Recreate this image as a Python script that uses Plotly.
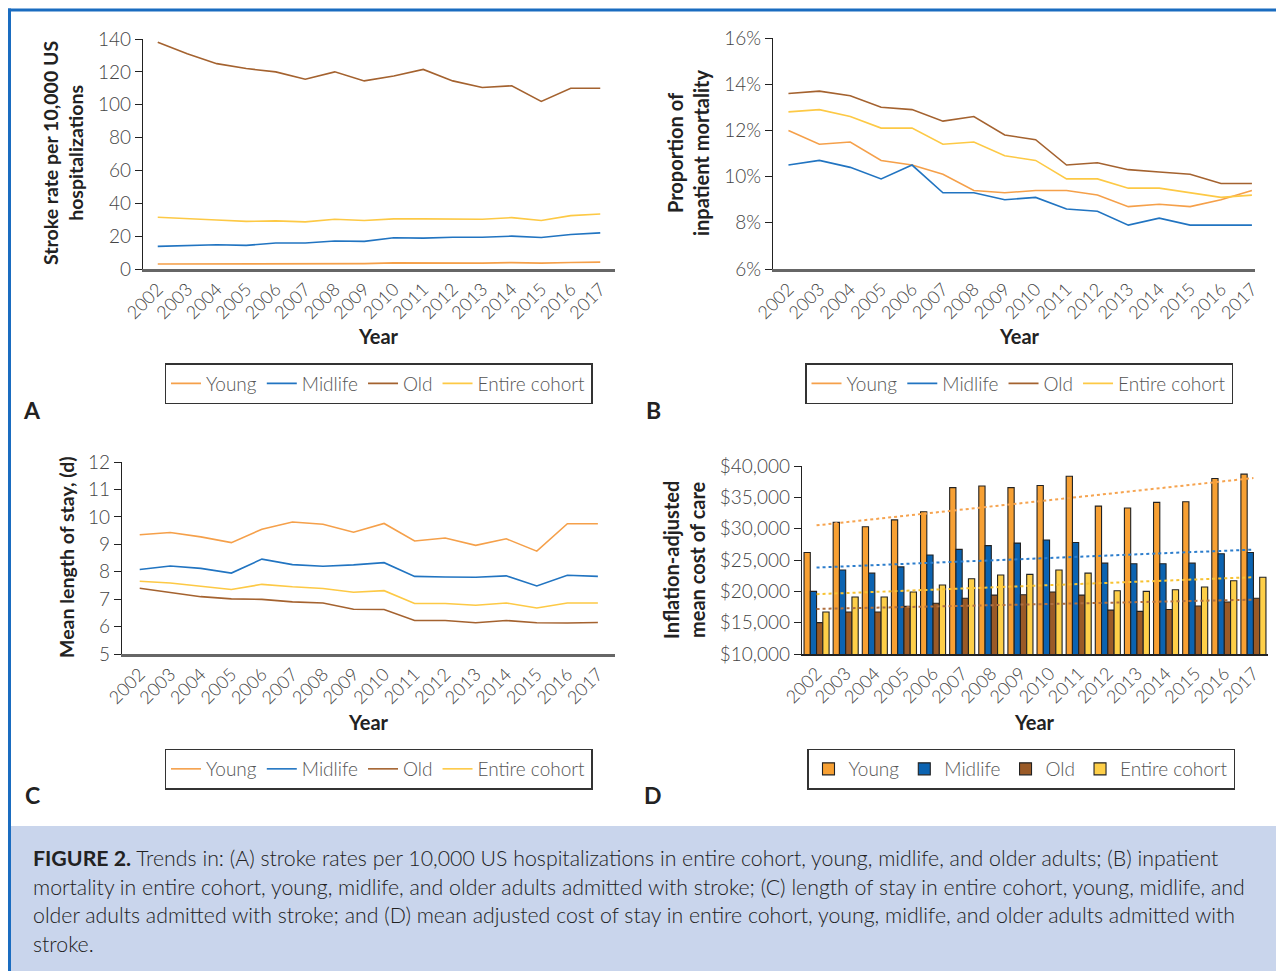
import numpy as np
import plotly.graph_objects as go

FONT = "Lato"
W, H = 1276, 971

years = [str(y) for y in range(2002, 2018)]
series_names = ["Young", "Midlife", "Old", "Entire cohort"]

# Panel A: stroke rate per 10,000 US hospitalizations
a_young = [3.0, 3.0, 3.2, 3.0, 3.2, 3.3, 3.4, 3.3, 3.7, 3.6, 3.6, 3.6, 3.9, 3.6, 4.0, 4.2]
a_midlife = [13.8, 14.5, 14.8, 14.4, 15.8, 15.8, 17.0, 16.8, 19.0, 18.8, 19.3, 19.3, 20.0, 19.2, 21.0, 22.0]
a_old = [138, 131, 125, 122, 120, 115.5, 120, 114.5, 117.5, 121.5, 114.5, 110.5, 111.5, 102, 110, 110]
a_entire = [31.5, 30.5, 29.8, 29.0, 29.3, 28.7, 30.3, 29.5, 30.5, 30.5, 30.3, 30.3, 31.3, 29.5, 32.5, 33.5]

# Panel B: proportion of inpatient mortality
b_young = [0.120, 0.114, 0.115, 0.107, 0.105, 0.101, 0.094, 0.093, 0.094, 0.094, 0.092, 0.087, 0.088, 0.087, 0.090, 0.094]
b_midlife = [0.105, 0.107, 0.104, 0.099, 0.105, 0.093, 0.093, 0.090, 0.091, 0.086, 0.085, 0.079, 0.082, 0.079, 0.079, 0.079]
b_old = [0.136, 0.137, 0.135, 0.130, 0.129, 0.124, 0.126, 0.118, 0.116, 0.105, 0.106, 0.103, 0.102, 0.101, 0.097, 0.097]
b_entire = [0.128, 0.129, 0.126, 0.121, 0.121, 0.114, 0.115, 0.109, 0.107, 0.099, 0.099, 0.095, 0.095, 0.093, 0.091, 0.092]

# Panel C: mean length of stay (days)
c_young = [9.35, 9.43, 9.27, 9.06, 9.55, 9.81, 9.73, 9.44, 9.76, 9.12, 9.23, 8.96, 9.20, 8.75, 9.75, 9.75]
c_midlife = [8.08, 8.21, 8.12, 7.95, 8.46, 8.26, 8.20, 8.25, 8.33, 7.83, 7.81, 7.80, 7.85, 7.48, 7.87, 7.83]
c_old = [7.40, 7.24, 7.09, 7.01, 6.99, 6.90, 6.86, 6.63, 6.62, 6.22, 6.22, 6.14, 6.22, 6.14, 6.13, 6.15]
c_entire = [7.65, 7.59, 7.47, 7.35, 7.54, 7.45, 7.39, 7.25, 7.31, 6.84, 6.84, 6.78, 6.86, 6.68, 6.86, 6.86]

# Panel D: inflation-adjusted mean cost of care ($)
d_young = [26200, 31000, 30300, 31400, 32700, 36550, 36800, 36550, 36900, 38360, 33600, 33300, 34200, 34300, 38000, 38700]
d_midlife = [20000, 23400, 22900, 23900, 25800, 26700, 27300, 27700, 28200, 27800, 24500, 24400, 24400, 24500, 26000, 26200]
d_old = [15000, 16700, 16700, 17600, 18100, 18900, 19400, 19450, 19900, 19400, 17000, 16800, 17100, 17650, 18300, 18900]
d_entire = [16700, 19100, 19100, 19900, 21000, 22000, 22600, 22700, 23400, 22900, 20100, 20000, 20250, 20700, 21700, 22250]

line_colors = ["#f5a04a", "#2174c1", "#a4622f", "#fdc945"]
bar_colors = ["#f7a033", "#0b63b1", "#9a5a27", "#fecf48"]
trend_colors = ["#f6a450", "#2c7dcc", "#b07040", "#f7c232"]


def px(x):
    return x / W


def py(y):
    return 1 - y / H


fig = go.Figure()

panels_lines = [
    ("x", "y", "legend", [a_young, a_midlife, a_old, a_entire]),
    ("x2", "y2", "legend2", [b_young, b_midlife, b_old, b_entire]),
    ("x3", "y3", "legend3", [c_young, c_midlife, c_old, c_entire]),
]
for xa, ya, lg, data in panels_lines:
    for name, vals, col in zip(series_names, data, line_colors):
        fig.add_trace(go.Scatter(x=years, y=vals, name=name, mode="lines",
                                 line=dict(color=col, width=1.6),
                                 xaxis=xa, yaxis=ya, legend=lg))

for name, vals, col in zip(series_names, [d_young, d_midlife, d_old, d_entire], bar_colors):
    fig.add_trace(go.Bar(x=years, y=vals, name=name, marker=dict(color=col, line=dict(color="#222", width=1.1)),
                         xaxis="x4", yaxis="y4", legend="legend4"))

# linear trend lines for panel D, fitted from the data
idx = np.arange(len(years))
for vals, col in zip([d_young, d_midlife, d_old, d_entire], trend_colors):
    k, b = np.polyfit(idx, np.array(vals, dtype=float), 1)
    fig.add_trace(go.Scatter(x=[years[0], years[-1]], y=[b, b + k * idx[-1]], mode="lines",
                             line=dict(color=col, width=2, dash="dot"), showlegend=False,
                             xaxis="x4", yaxis="y4", hoverinfo="skip"))

tickfont = dict(family=FONT, size=19, color="#444", weight=300)
xtickfont = dict(family=FONT, size=18, color="#444", weight=300)


def xaxis(dom, anchor, rng, lc="#666", lw=2.5):
    return dict(domain=dom, anchor=anchor, type="category", range=rng, showgrid=False,
                showline=True, linecolor=lc, linewidth=lw, ticks="", tickangle=-45,
                tickfont=xtickfont, zeroline=False, fixedrange=True, automargin=False)


def yaxis(dom, anchor, rng, dtick, **kw):
    d = dict(domain=dom, anchor=anchor, range=rng, dtick=dtick, showgrid=False, showline=True,
             linecolor="#222", linewidth=1.3, ticks="outside", ticklen=7, tickcolor="#222",
             tickwidth=1.3, tickfont=tickfont, zeroline=False, fixedrange=True, automargin=False)
    d.update(kw)
    return d


legend_style = dict(orientation="h", xanchor="center", yanchor="middle", bordercolor="#333",
                    borderwidth=1.5, bgcolor="white",
                    font=dict(family=FONT, size=19, color="#555", weight=300),
                    itemwidth=30)

fig.update_layout(
    template="none",
    width=W, height=H, margin=dict(l=0, r=0, t=0, b=0, autoexpand=False),
    paper_bgcolor="white", plot_bgcolor="white",
    font=dict(family=FONT, color="#333"),
    barmode="group", bargap=0.14, bargroupgap=0,
    xaxis=xaxis([px(143), px(615)], "y", [-0.5, 15.5]),
    yaxis=yaxis([py(269), py(39)], "x", [0, 140], 20),
    xaxis2=xaxis([px(773), px(1255)], "y2", [-0.5, 15.1]),
    yaxis2=yaxis([py(269), py(38)], "x2", [0.06, 0.16], 0.02, tickformat=".0%"),
    xaxis3=xaxis([px(122), px(615)], "y3", [-0.58, 15.56]),
    yaxis3=yaxis([py(654), py(462)], "x3", [5, 12], 1),
    xaxis4=xaxis([px(802), px(1268)], "y4", [-0.5, 15.5], lc="#222", lw=2),
    yaxis4=yaxis([py(654), py(466)], "x4", [10000, 40000], 5000, tickprefix="$", tickformat=",d"),
    legend=dict(x=px(378.5), y=py(383.5), **legend_style),
    legend2=dict(x=px(1019), y=py(383.5), **legend_style),
    legend3=dict(x=px(378.5), y=py(769), **legend_style),
    legend4=dict(x=px(1021), y=py(769), **legend_style),
    showlegend=True,
)

shapes = [
    dict(type="rect", xref="paper", yref="paper", x0=px(11), x1=1, y0=0, y1=py(826),
         fillcolor="#c9d5ec", line=dict(width=0), layer="below"),
    dict(type="line", xref="paper", yref="paper", x0=px(8), x1=1, y0=py(10), y1=py(10),
         line=dict(color="#1a6cc0", width=3)),
    dict(type="line", xref="paper", yref="paper", x0=px(9.5), x1=px(9.5), y0=0, y1=py(8.5),
         line=dict(color="#1a6cc0", width=3)),
]
fig.update_layout(shapes=shapes)

ann = []


def text(x, y, s, size=19, bold=False, angle=0, xanchor="center", color="#222", align="center", weight=None):
    f = dict(family=FONT, size=size, color=color)
    if weight:
        f["weight"] = weight
    ann.append(dict(xref="paper", yref="paper", x=px(x), y=py(y), text=(f"<b>{s}</b>" if bold else s),
                    showarrow=False, textangle=angle, xanchor=xanchor, yanchor="middle", align=align,
                    font=f))


# axis titles
text(63, 153, "Stroke rate per 10,000 US<br>hospitalizations", size=19.5, bold=True, angle=-90)
text(688, 153, "Proportion of<br>inpatient mortality", size=20, bold=True, angle=-90)
text(66, 557, "Mean length of stay, (d)", size=19.5, bold=True, angle=-90)
text(684, 560, "Inflation-adjusted<br>mean cost of care", size=20, bold=True, angle=-90)
for x, y in [(378, 336), (1019, 336), (368, 722), (1034, 722)]:
    text(x, y, "Year", size=20, bold=True)
# panel letters
for x, y, s in [(32, 410, "A"), (653, 410, "B"), (32, 795, "C"), (653, 795, "D")]:
    text(x, y, s, size=23, bold=True)

caption = [
    "<b>FIGURE 2.</b> Trends in: (A) stroke rates per 10,000 US hospitalizations in entire cohort, young, midlife, and older adults; (B) inpatient",
    "mortality in entire cohort, young, midlife, and older adults admitted with stroke; (C) length of stay in entire cohort, young, midlife, and",
    "older adults admitted with stroke; and (D) mean adjusted cost of stay in entire cohort, young, midlife, and older adults admitted with",
    "stroke.",
]
for i, line in enumerate(caption):
    text(31, 858 + i * 28.7, line, size=21.3, xanchor="left", color="#222", align="left", weight=300)

fig.update_layout(annotations=ann)

fig.write_html("out.html", include_plotlyjs=True, config={"displayModeBar": False},
               post_script="document.body.style.margin='0';document.body.style.overflow='hidden';")
